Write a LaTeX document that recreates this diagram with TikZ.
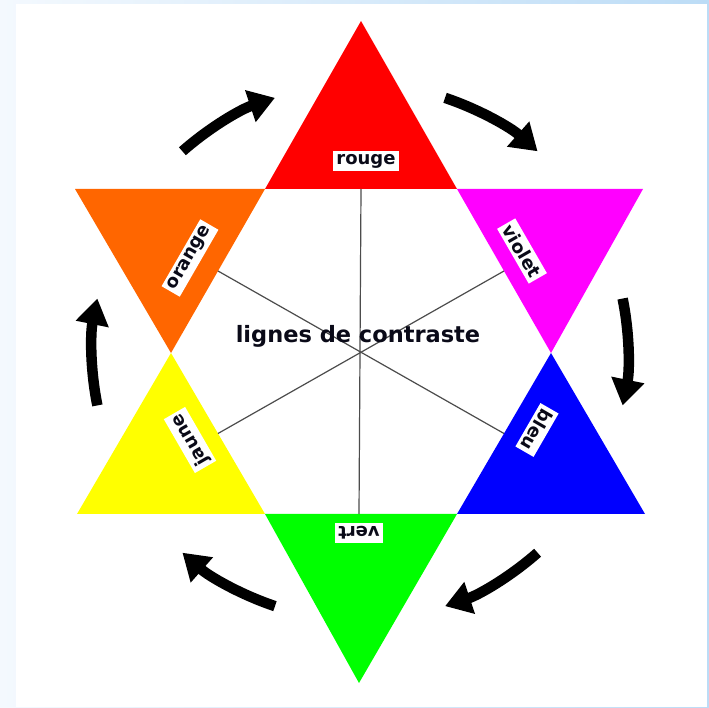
\documentclass[tikz,border=0pt]{standalone}
\usepackage{fontspec}
\setmainfont{DejaVu Sans}
\usetikzlibrary{arrows.meta,calc}
\definecolor{bgL}{HTML}{F4F9FE}
\definecolor{bgR}{HTML}{BCDCF6}
\definecolor{txt}{HTML}{0A0A18}
\definecolor{orangeC}{HTML}{FF6600}
\definecolor{violetC}{HTML}{FF00FF}
\definecolor{greenC}{HTML}{00FF00}
\definecolor{yellowC}{HTML}{FFFF00}
\definecolor{redC}{HTML}{FF0000}
\definecolor{blueC}{HTML}{0000FF}
\begin{document}
\begin{tikzpicture}[x=1pt,y=1pt,
  lab/.style={fill=white, inner xsep=3pt, inner ysep=3.5pt, font=\fontsize{18}{18}\selectfont\bfseries, text=txt},
  contrast/.style={draw=black!70, line width=1.2pt},
  cyc/.style={line width=10.5pt, -{Triangle[length=26pt,width=32pt]}}]
\useasboundingbox (0,0) rectangle (709,707);
\shade[left color=bgL,right color=bgR] (0,0) rectangle (709,707);
\fill[white] (16,0) rectangle (707,703);
% star vertices
\coordinate (T) at (361,686);
\coordinate (H1) at (265,518);
\coordinate (H2) at (457,518);
\coordinate (H3) at (551,354);
\coordinate (H4) at (457,193);
\coordinate (H5) at (265,193);
\coordinate (H6) at (171,354);
\coordinate (TR) at (643,518);
\coordinate (BR) at (645,193);
\coordinate (B) at (359,24);
\coordinate (BL) at (77,193);
\coordinate (TL) at (75,518);
% triangles
\fill[redC] (T) -- (H1) -- (H2) -- cycle;
\fill[violetC] (H2) -- (TR) -- (H3) -- cycle;
\fill[blueC] (H3) -- (BR) -- (H4) -- cycle;
\fill[greenC] (H4) -- (B) -- (H5) -- cycle;
\fill[yellowC] (H5) -- (BL) -- (H6) -- cycle;
\fill[orangeC] (H6) -- (TL) -- (H1) -- cycle;
% contrast lines
\coordinate (M12) at ($(H1)!0.5!(H2)$);
\coordinate (M23) at ($(H2)!0.5!(H3)$);
\coordinate (M34) at ($(H3)!0.5!(H4)$);
\coordinate (M45) at (359,193);
\coordinate (M56) at ($(H5)!0.5!(H6)$);
\coordinate (M61) at ($(H6)!0.5!(H1)$);
\draw[contrast] (M12) -- (M45);
\draw[contrast] (M23) -- (M56);
\draw[contrast] (M34) -- (M61);
\node[font=\fontsize{22.5}{22.5}\selectfont\bfseries, text=txt] (title) at (358,371) {lignes de contraste};
% labels
\node[lab] (rouge) at (366,546) {rouge};
\node[lab, rotate=-60] (violet) at (522,456) {violet};
\node[lab, rotate=-120] (bleu) at (537,277) {bleu};
\node[lab, rotate=180] (vert) at (359,174) {vert};
\node[lab, rotate=120] (jaune) at (190,267) {jaune};
\node[lab, rotate=60] (orange) at (190,449) {orange};
% cycle arrows
\coordinate (O) at (360,355);
\foreach \c in {120,60,0,-60,-120,180}{
  \draw[cyc] (O) ++(\c+11.5:268) arc[start angle=\c+11.5, end angle=\c-11.5, radius=268];
}
\end{tikzpicture}
\end{document}
